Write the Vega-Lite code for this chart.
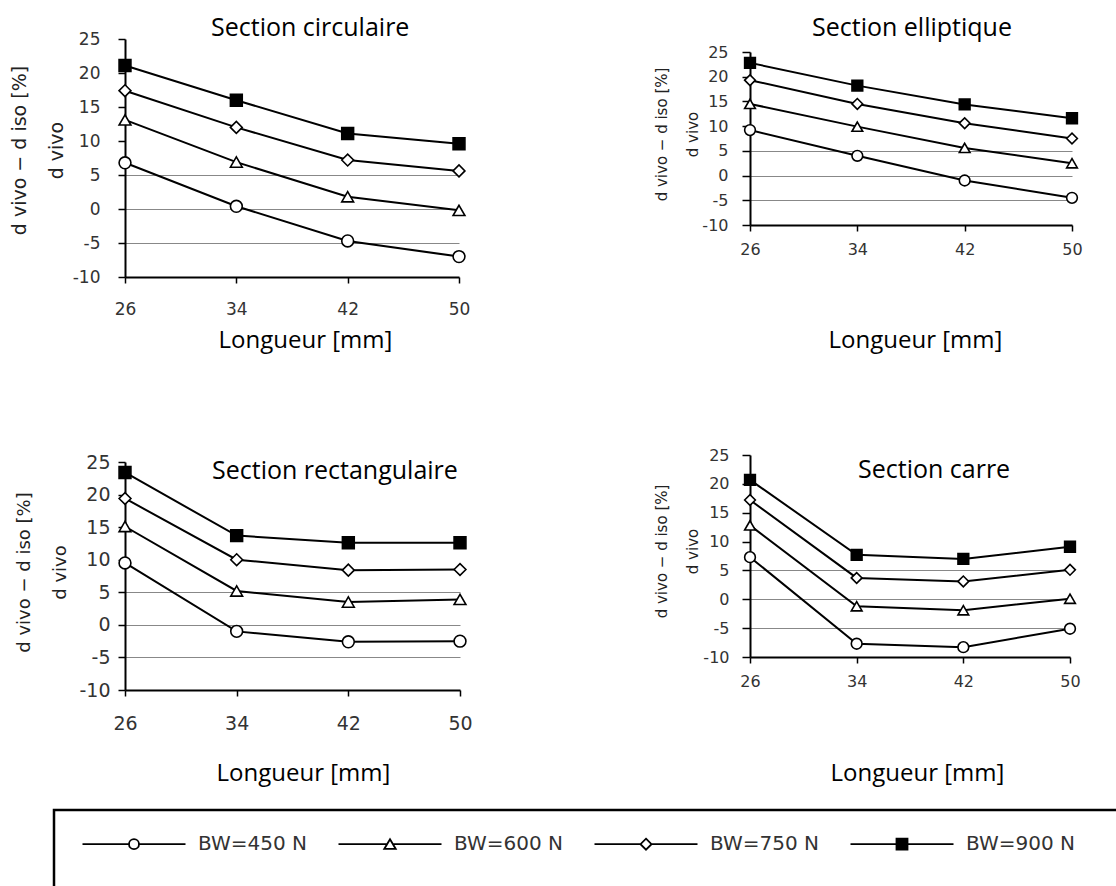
{
  "$schema": "https://vega.github.io/schema/vega-lite/v6.json",
  "background": "white",
  "padding": {"left": 9, "top": 15, "right": 0, "bottom": 0},
  "datasets": {
    "mesures": [
      {"section": "circulaire", "L": 26, "bw": "BW=450 N", "v": 6.8},
      {"section": "circulaire", "L": 34, "bw": "BW=450 N", "v": 0.4},
      {"section": "circulaire", "L": 42, "bw": "BW=450 N", "v": -4.7},
      {"section": "circulaire", "L": 50, "bw": "BW=450 N", "v": -7.0},
      {"section": "circulaire", "L": 26, "bw": "BW=600 N", "v": 13.1},
      {"section": "circulaire", "L": 34, "bw": "BW=600 N", "v": 6.9},
      {"section": "circulaire", "L": 42, "bw": "BW=600 N", "v": 1.8},
      {"section": "circulaire", "L": 50, "bw": "BW=600 N", "v": -0.2},
      {"section": "circulaire", "L": 26, "bw": "BW=750 N", "v": 17.4},
      {"section": "circulaire", "L": 34, "bw": "BW=750 N", "v": 12.0},
      {"section": "circulaire", "L": 42, "bw": "BW=750 N", "v": 7.2},
      {"section": "circulaire", "L": 50, "bw": "BW=750 N", "v": 5.6},
      {"section": "circulaire", "L": 26, "bw": "BW=900 N", "v": 21.1},
      {"section": "circulaire", "L": 34, "bw": "BW=900 N", "v": 16.0},
      {"section": "circulaire", "L": 42, "bw": "BW=900 N", "v": 11.1},
      {"section": "circulaire", "L": 50, "bw": "BW=900 N", "v": 9.6},
      {"section": "elliptique", "L": 26, "bw": "BW=450 N", "v": 9.2},
      {"section": "elliptique", "L": 34, "bw": "BW=450 N", "v": 4.0},
      {"section": "elliptique", "L": 42, "bw": "BW=450 N", "v": -1.0},
      {"section": "elliptique", "L": 50, "bw": "BW=450 N", "v": -4.5},
      {"section": "elliptique", "L": 26, "bw": "BW=600 N", "v": 14.5},
      {"section": "elliptique", "L": 34, "bw": "BW=600 N", "v": 9.9},
      {"section": "elliptique", "L": 42, "bw": "BW=600 N", "v": 5.6},
      {"section": "elliptique", "L": 50, "bw": "BW=600 N", "v": 2.5},
      {"section": "elliptique", "L": 26, "bw": "BW=750 N", "v": 19.3},
      {"section": "elliptique", "L": 34, "bw": "BW=750 N", "v": 14.5},
      {"section": "elliptique", "L": 42, "bw": "BW=750 N", "v": 10.6},
      {"section": "elliptique", "L": 50, "bw": "BW=750 N", "v": 7.5},
      {"section": "elliptique", "L": 26, "bw": "BW=900 N", "v": 22.8},
      {"section": "elliptique", "L": 34, "bw": "BW=900 N", "v": 18.2},
      {"section": "elliptique", "L": 42, "bw": "BW=900 N", "v": 14.4},
      {"section": "elliptique", "L": 50, "bw": "BW=900 N", "v": 11.6},
      {"section": "rectangulaire", "L": 26, "bw": "BW=450 N", "v": 9.5},
      {"section": "rectangulaire", "L": 34, "bw": "BW=450 N", "v": -1.0},
      {"section": "rectangulaire", "L": 42, "bw": "BW=450 N", "v": -2.6},
      {"section": "rectangulaire", "L": 50, "bw": "BW=450 N", "v": -2.5},
      {"section": "rectangulaire", "L": 26, "bw": "BW=600 N", "v": 15.1},
      {"section": "rectangulaire", "L": 34, "bw": "BW=600 N", "v": 5.2},
      {"section": "rectangulaire", "L": 42, "bw": "BW=600 N", "v": 3.5},
      {"section": "rectangulaire", "L": 50, "bw": "BW=600 N", "v": 3.9},
      {"section": "rectangulaire", "L": 26, "bw": "BW=750 N", "v": 19.4},
      {"section": "rectangulaire", "L": 34, "bw": "BW=750 N", "v": 10.0},
      {"section": "rectangulaire", "L": 42, "bw": "BW=750 N", "v": 8.4},
      {"section": "rectangulaire", "L": 50, "bw": "BW=750 N", "v": 8.5},
      {"section": "rectangulaire", "L": 26, "bw": "BW=900 N", "v": 23.4},
      {"section": "rectangulaire", "L": 34, "bw": "BW=900 N", "v": 13.7},
      {"section": "rectangulaire", "L": 42, "bw": "BW=900 N", "v": 12.6},
      {"section": "rectangulaire", "L": 50, "bw": "BW=900 N", "v": 12.6},
      {"section": "carre", "L": 26, "bw": "BW=450 N", "v": 7.3},
      {"section": "carre", "L": 34, "bw": "BW=450 N", "v": -7.7},
      {"section": "carre", "L": 42, "bw": "BW=450 N", "v": -8.3},
      {"section": "carre", "L": 50, "bw": "BW=450 N", "v": -5.1},
      {"section": "carre", "L": 26, "bw": "BW=600 N", "v": 12.8},
      {"section": "carre", "L": 34, "bw": "BW=600 N", "v": -1.2},
      {"section": "carre", "L": 42, "bw": "BW=600 N", "v": -1.9},
      {"section": "carre", "L": 50, "bw": "BW=600 N", "v": 0.1},
      {"section": "carre", "L": 26, "bw": "BW=750 N", "v": 17.2},
      {"section": "carre", "L": 34, "bw": "BW=750 N", "v": 3.7},
      {"section": "carre", "L": 42, "bw": "BW=750 N", "v": 3.1},
      {"section": "carre", "L": 50, "bw": "BW=750 N", "v": 5.1},
      {"section": "carre", "L": 26, "bw": "BW=900 N", "v": 20.7},
      {"section": "carre", "L": 34, "bw": "BW=900 N", "v": 7.7},
      {"section": "carre", "L": 42, "bw": "BW=900 N", "v": 7.0},
      {"section": "carre", "L": 50, "bw": "BW=900 N", "v": 9.1}
    ]
  },
  "data": {"name": "mesures"},
  "config": {
    "view": {"stroke": null},
    "font": "DejaVu Sans",
    "title": {"font": "Open Sans", "fontSize": 25, "fontWeight": "normal", "color": "black"},
    "legend": {"strokeWidth": 2.5},
    "axis": {
      "domainColor": "black",
      "domainWidth": 2,
      "tickColor": "black",
      "tickWidth": 1.5,
      "labelColor": "#333",
      "labelFont": "DejaVu Sans",
      "labelFlush": false,
      "labelOverlap": false,
      "titleFontWeight": "normal",
      "titleColor": "black"
    },
    "axisX": {
      "grid": false,
      "tickSize": 6,
      "titleFont": "Open Sans",
      "titleFontSize": 24,
      "titleAlign": "center",
      "titleBaseline": "middle"
    },
    "axisY": {
      "titleFont": "DejaVu Sans",
      "titleColor": "#222",
      "titleAlign": "center",
      "titleBaseline": "alphabetic",
      "labelExpr": "'' + datum.value"
    }
  },
  "bounds": "flush",
  "hconcat": [
    {
      "bounds": "flush",
      "spacing": 185,
      "vconcat": [
        {
          "width": 334,
          "height": 238,
          "title": {"text": "Section circulaire", "anchor": "start", "frame": "group", "dx": 86, "offset": -30.5, "baseline": "alphabetic"},
          "transform": [{"filter": "datum.section === 'circulaire'"}],
          "encoding": {
            "x": {
              "field": "L", "type": "quantitative",
              "scale": {"domain": [26, 50], "nice": false, "zero": false},
              "axis": {"values": [26, 34, 42, 50], "labelFontSize": 17, "labelPadding": 18, "title": "Longueur [mm]", "titleX": 180, "titleY": 63}
            },
            "y": {
              "field": "v", "type": "quantitative",
              "scale": {"domain": [-10, 25], "nice": false, "zero": false},
              "axis": {
                "values": [-10, -5, 0, 5, 10, 15, 20, 25],
                "labelFontSize": 17, "labelPadding": 18, "tickSize": 7,
                "grid": true, "gridColor": "#888", "gridWidth": 1,
                "gridOpacity": {"condition": {"test": "abs(datum.value) <= 5", "value": 1}, "value": 0},
                "title": ["d vivo − d iso  [%]", "d vivo\u00a0\u00a0\u00a0\u00a0\u00a0\u00a0\u00a0\u00a0\u00a0\u00a0\u00a0\u00a0\u00a0\u00a0\u00a0\u00a0"],
                "titleFontSize": 19, "titleLineHeight": 37, "titleX": -100, "titleY": 111
              }
            }
          },
          "resolve": {"scale": {"shape": "independent", "fill": "independent"}},
          "layer": [
            {"mark": {"type": "line", "color": "black", "strokeWidth": 2}, "encoding": {"detail": {"field": "bw"}}},
            {
              "mark": {"type": "point", "filled": true, "size": 140, "stroke": "black", "strokeWidth": 1.6, "opacity": 1},
              "encoding": {
                "shape": {
                  "field": "bw", "type": "nominal",
                  "scale": {"domain": ["BW=450 N", "BW=600 N", "BW=750 N", "BW=900 N"], "range": ["circle", "triangle-up", "diamond", "square"]},
                  "legend": null
                },
                "fill": {
                  "field": "bw", "type": "nominal",
                  "scale": {"domain": ["BW=450 N", "BW=600 N", "BW=750 N", "BW=900 N"], "range": ["white", "white", "white", "black"]},
                  "legend": null
                }
              }
            },
            {
              "mark": {"type": "point", "filled": true, "size": 0, "stroke": "black", "strokeWidth": 1.8, "opacity": 1},
              "encoding": {
                "shape": {
                  "field": "bw", "type": "nominal",
                  "scale": {
                    "domain": ["BW=450 N", "BW=600 N", "BW=750 N", "BW=900 N"],
                    "range": [
                      "M-10.3,0H-1M1,0H10.3M-1,0A1,1 0 1,1 1,0A1,1 0 1,1 -1,0ZM0,5",
                      "M-10.3,0H-0.6M0.6,0H10.3M0,-1L1.15,0.95L-1.15,0.95ZM0,5",
                      "M-10.3,0H-1.1M1.1,0H10.3M0,-1.1L1.1,0L0,1.1L-1.1,0ZM0,5",
                      "M-10.3,0H-1.1M1.1,0H10.3M-1.1,-1.1H1.1V1.1H-1.1ZM0,5M42,0"
                    ]
                  },
                  "legend": {
                    "title": null,
                    "orient": "none",
                    "legendX": -71,
                    "legendY": 771,
                    "direction": "horizontal",
                    "columns": 4,
                    "symbolSize": 100,
                    "symbolOffset": 46,
                    "symbolStrokeWidth": 1.8,
                    "labelOffset": 54,
                    "columnPadding": 26,
                    "padding": 24,
                    "labelFont": "DejaVu Sans",
                    "labelFontSize": 20,
                    "labelColor": "#333",
                    "labelLimit": 300,
                    "strokeColor": "black",
                    "fillColor": "white"
                  }
                },
                "fill": {
                  "field": "bw", "type": "nominal",
                  "scale": {"domain": ["BW=450 N", "BW=600 N", "BW=750 N", "BW=900 N"], "range": ["white", "white", "white", "black"]},
                  "legend": null
                }
              }
            }
          ]
        },
        {
          "width": 335,
          "height": 228,
          "title": {"text": "Section rectangulaire", "anchor": "start", "frame": "group", "dx": 87, "offset": -50.5, "baseline": "alphabetic"},
          "transform": [{"filter": "datum.section === 'rectangulaire'"}],
          "encoding": {
            "x": {
              "field": "L", "type": "quantitative",
              "scale": {"domain": [26, 50], "nice": false, "zero": false},
              "axis": {"values": [26, 34, 42, 50], "labelFontSize": 19, "labelPadding": 18, "title": "Longueur [mm]", "titleX": 178, "titleY": 83}
            },
            "y": {
              "field": "v", "type": "quantitative",
              "scale": {"domain": [-10, 25], "nice": false, "zero": false},
              "axis": {
                "values": [-10, -5, 0, 5, 10, 15, 20, 25],
                "labelFontSize": 19, "labelPadding": 8, "tickSize": 7,
                "grid": true, "gridColor": "#888", "gridWidth": 1,
                "gridOpacity": {"condition": {"test": "abs(datum.value) <= 5", "value": 1}, "value": 0},
                "title": ["d vivo − d iso  [%]", "d vivo\u00a0\u00a0\u00a0\u00a0\u00a0\u00a0\u00a0\u00a0\u00a0\u00a0\u00a0\u00a0\u00a0\u00a0\u00a0\u00a0\u00a0\u00a0"],
                "titleFontSize": 18, "titleLineHeight": 36, "titleX": -96, "titleY": 110
              }
            }
          },
          "layer": [
            {"mark": {"type": "line", "color": "black", "strokeWidth": 2}, "encoding": {"detail": {"field": "bw"}}},
            {
              "mark": {"type": "point", "filled": true, "size": 140, "stroke": "black", "strokeWidth": 1.6, "opacity": 1},
              "encoding": {
                "shape": {
                  "field": "bw", "type": "nominal",
                  "scale": {"domain": ["BW=450 N", "BW=600 N", "BW=750 N", "BW=900 N"], "range": ["circle", "triangle-up", "diamond", "square"]},
                  "legend": null
                },
                "fill": {
                  "field": "bw", "type": "nominal",
                  "scale": {"domain": ["BW=450 N", "BW=600 N", "BW=750 N", "BW=900 N"], "range": ["white", "white", "white", "black"]},
                  "legend": null
                }
              }
            }
          ]
        }
      ]
    },
    {
      "bounds": "flush",
      "spacing": 230,
      "vconcat": [
        {
          "width": 322,
          "height": 186,
          "title": {"text": "Section elliptique", "anchor": "start", "frame": "group", "dx": 62, "offset": -22, "baseline": "alphabetic"},
          "transform": [{"filter": "datum.section === 'elliptique'"}],
          "encoding": {
            "x": {
              "field": "L", "type": "quantitative",
              "scale": {"domain": [26, 50], "nice": false, "zero": false},
              "axis": {"values": [26, 34, 42, 50], "labelFontSize": 16, "labelPadding": 10, "title": "Longueur [mm]", "titleX": 165, "titleY": 115}
            },
            "y": {
              "field": "v", "type": "quantitative",
              "scale": {"domain": [-10, 25], "nice": false, "zero": false, "range": [186, 13]},
              "axis": {
                "values": [-10, -5, 0, 5, 10, 15, 20, 25],
                "labelFontSize": 16, "labelPadding": 14, "tickSize": 8,
                "grid": true, "gridColor": "#888", "gridWidth": 1,
                "gridOpacity": {"condition": {"test": "abs(datum.value) <= 5", "value": 1}, "value": 0},
                "title": ["d vivo − d iso  [%]", "d vivo"],
                "titleFontSize": 15, "titleLineHeight": 31, "titleX": -84, "titleY": 95
              }
            }
          },
          "layer": [
            {"mark": {"type": "line", "color": "black", "strokeWidth": 2}, "encoding": {"detail": {"field": "bw"}}},
            {
              "mark": {"type": "point", "filled": true, "size": 115, "stroke": "black", "strokeWidth": 1.6, "opacity": 1},
              "encoding": {
                "shape": {
                  "field": "bw", "type": "nominal",
                  "scale": {"domain": ["BW=450 N", "BW=600 N", "BW=750 N", "BW=900 N"], "range": ["circle", "triangle-up", "diamond", "square"]},
                  "legend": null
                },
                "fill": {
                  "field": "bw", "type": "nominal",
                  "scale": {"domain": ["BW=450 N", "BW=600 N", "BW=750 N", "BW=900 N"], "range": ["white", "white", "white", "black"]},
                  "legend": null
                }
              }
            }
          ]
        },
        {
          "width": 320,
          "height": 202,
          "title": {"text": "Section carre", "anchor": "start", "frame": "group", "dx": 108, "offset": -56, "baseline": "alphabetic"},
          "transform": [{"filter": "datum.section === 'carre'"}],
          "encoding": {
            "x": {
              "field": "L", "type": "quantitative",
              "scale": {"domain": [26, 50], "nice": false, "zero": false},
              "axis": {"values": [26, 34, 42, 50], "labelFontSize": 16, "labelPadding": 10, "title": "Longueur [mm]", "titleX": 167, "titleY": 116}
            },
            "y": {
              "field": "v", "type": "quantitative",
              "scale": {"domain": [-10, 25], "nice": false, "zero": false},
              "axis": {
                "values": [-10, -5, 0, 5, 10, 15, 20, 25],
                "labelFontSize": 16, "labelPadding": 13, "tickSize": 8,
                "grid": true, "gridColor": "#888", "gridWidth": 1,
                "gridOpacity": {"condition": {"test": "abs(datum.value) <= 5", "value": 1}, "value": 0},
                "title": ["d vivo − d iso  [%]", "d vivo"],
                "titleFontSize": 15, "titleLineHeight": 31, "titleX": -84, "titleY": 96
              }
            }
          },
          "layer": [
            {"mark": {"type": "line", "color": "black", "strokeWidth": 2}, "encoding": {"detail": {"field": "bw"}}},
            {
              "mark": {"type": "point", "filled": true, "size": 115, "stroke": "black", "strokeWidth": 1.6, "opacity": 1},
              "encoding": {
                "shape": {
                  "field": "bw", "type": "nominal",
                  "scale": {"domain": ["BW=450 N", "BW=600 N", "BW=750 N", "BW=900 N"], "range": ["circle", "triangle-up", "diamond", "square"]},
                  "legend": null
                },
                "fill": {
                  "field": "bw", "type": "nominal",
                  "scale": {"domain": ["BW=450 N", "BW=600 N", "BW=750 N", "BW=900 N"], "range": ["white", "white", "white", "black"]},
                  "legend": null
                }
              }
            }
          ]
        }
      ]
    }
  ],
  "spacing": 625
}
